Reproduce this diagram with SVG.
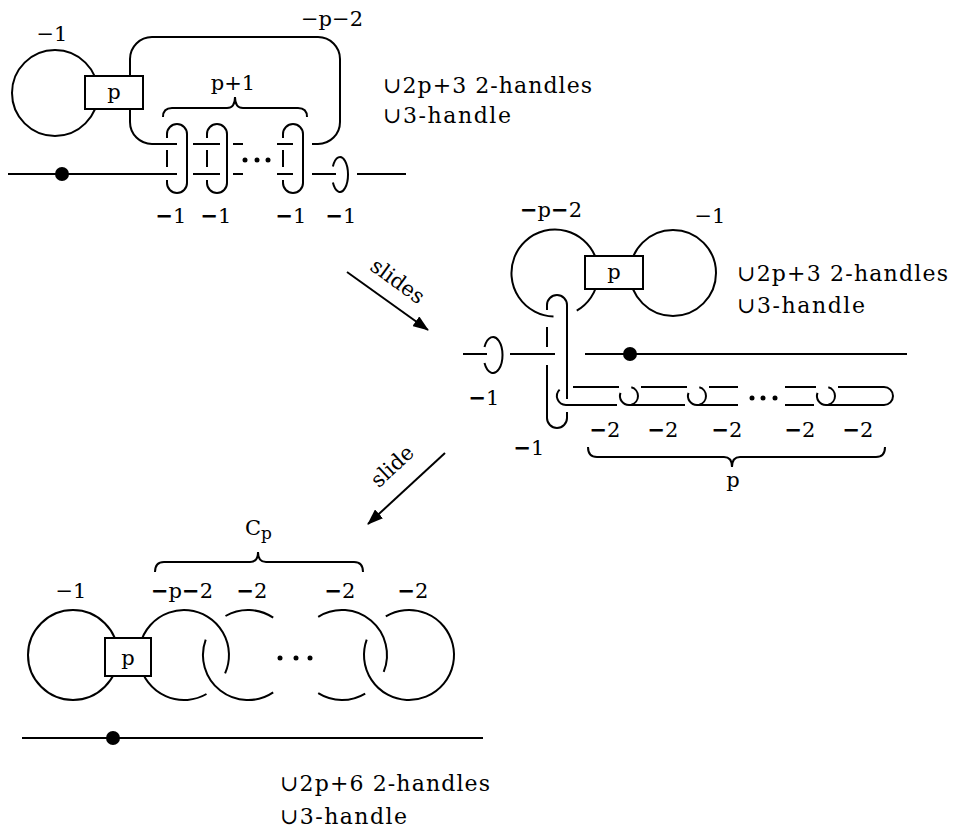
<svg xmlns="http://www.w3.org/2000/svg" width="954" height="834" viewBox="0 0 954 834">
<style>
.s{fill:none;stroke:#000;stroke-width:2}
.b{fill:#fff;stroke:#000;stroke-width:2}
.d{fill:#000}
text{font-family:"DejaVu Serif","Liberation Serif",serif;font-size:21px;fill:#000}
.m{text-anchor:middle}
.h{font-size:22px}
.k{font-weight:bold}
</style>
<defs>
<marker id="ah" viewBox="0 0 16 12" refX="15" refY="6" markerWidth="16" markerHeight="12" markerUnits="userSpaceOnUse" orient="auto">
<path d="M0,0 L16,6 L0,12 z" fill="#000"/>
</marker>
</defs>

<!-- top-left diagram -->
<g id="top">
<g id="t-circle"><circle class="s" cx="55" cy="93" r="43"/></g>
<g id="t-pp2">
<path class="s" d="M130,76 V59 A22,22 0 0 1 152,37 H318 A22,22 0 0 1 340,59 V122 A22,22 0 0 1 318,144 H312"/>
<path class="s" d="M130,109 V122 A22,22 0 0 0 152,144 H177 M193,144 H220 M233,144 H243 M277,144 H293"/>
</g>
<g id="t-box"><rect class="b" x="85" y="76" width="58" height="33"/><text class="m" x="114" y="99">p</text></g>
<g id="t-line">
<path class="s" d="M8,174 H177 M193,174 H220 M233,174 H243 M277,174 H293 M312,174 H336 M357,174 H406"/>
<circle class="d" cx="62" cy="174" r="7"/>
</g>
<g id="t-clasps">
<path class="s" d="M167,138 V134 A10,10 0 0 1 187,134 V183 A10,10 0 0 1 167,183 V180 M167,167 V150"/>
<path class="s" d="M207,138 V134 A10,10 0 0 1 227,134 V183 A10,10 0 0 1 207,183 V180 M207,167 V150"/>
<path class="s" d="M283,138 V134 A10,10 0 0 1 303,134 V183 A10,10 0 0 1 283,183 V180 M283,167 V150"/>
<path class="s" d="M332.9,166.5 A8,17.5 0 1 1 332.9,182.5"/>
<circle class="d" cx="245" cy="160" r="2.5"/><circle class="d" cx="257" cy="160" r="2.5"/><circle class="d" cx="268" cy="160" r="2.5"/>
</g>
<path class="s" d="M163,117 Q163,108 172,108 H227 Q235,108 235,97 Q235,108 243,108 H298 Q307,108 307,117"/>
<text class="m" x="52" y="41">−1</text>
<text class="m" x="332" y="26">−p−2</text>
<text class="m" x="233" y="90">p+1</text>
<text class="m" x="171" y="223"><tspan class="k">−</tspan>1</text>
<text class="m" x="216" y="223"><tspan class="k">−</tspan>1</text>
<text class="m" x="291" y="223"><tspan class="k">−</tspan>1</text>
<text class="m" x="341" y="223"><tspan class="k">−</tspan>1</text>
<text class="h" x="383" y="93" textLength="209" lengthAdjust="spacing">∪2p+3 2-handles</text>
<text class="h" x="383" y="123" textLength="128" lengthAdjust="spacing">∪3-handle</text>
</g>

<!-- middle diagram -->
<g id="mid">
<g id="m-pp2"><path class="s" d="M553.5,316.5 A43.5,43.5 0 1 1 576.75,310.67"/></g>
<g id="m-m1"><circle class="s" cx="673" cy="273" r="43"/></g>
<g id="m-box"><rect class="b" x="585" y="256" width="58" height="33"/><text class="m" x="614" y="279">p</text></g>
<g id="m-clasp">
<path class="s" d="M547,310 V305 A10,10 0 0 1 567,305 V399 M567,412 V418 A10,10 0 0 1 547,418 V365 M547,347 V327"/>
</g>
<g id="m-line">
<path class="s" d="M463,354 H487 M510,354 H555 M585,354 H907"/>
<circle class="d" cx="630" cy="354" r="7"/>
<path class="s" d="M484.5,347 A9.5,18 0 1 1 484.5,363"/>
</g>
<g id="m-chain">
<path class="s" d="M559.6,389.6 A9,9 0 0 0 566,405 H617 M573,387 H619"/>
<path class="s" d="M631.3,387.3 A9,9 0 0 1 631.3,404.7 M620.5,392.9 A9,9 0 0 0 629,405 H685 M641,387 H687"/>
<path class="s" d="M699.3,387.3 A9,9 0 0 1 699.3,404.7 M688.5,392.9 A9,9 0 0 0 697,405 H738 M709,387 H738"/>
<path class="s" d="M785,387 H816 M785,405 H814"/>
<path class="s" d="M828.3,387.3 A9,9 0 0 1 828.3,404.7 M817.5,392.9 A9,9 0 0 0 826,405 H884 A9,9 0 0 0 884,387 H838"/>
<circle class="d" cx="752" cy="398" r="2.5"/><circle class="d" cx="763" cy="398" r="2.5"/><circle class="d" cx="775" cy="398" r="2.5"/>
</g>
<path class="s" d="M588,447 Q588,457 597,457 H724 Q732,457 732,467 Q732,457 740,457 H876 Q885,457 885,447"/>
<text class="m" x="551" y="217"><tspan class="k">−</tspan>p<tspan class="k">−</tspan>2</text>
<text class="m" x="710" y="223">−1</text>
<text class="m" x="484" y="405"><tspan class="k">−</tspan>1</text>
<text class="m" x="529" y="455"><tspan class="k">−</tspan>1</text>
<text class="m" x="605" y="437"><tspan class="k">−</tspan>2</text>
<text class="m" x="663" y="437"><tspan class="k">−</tspan>2</text>
<text class="m" x="727" y="437"><tspan class="k">−</tspan>2</text>
<text class="m" x="800" y="437"><tspan class="k">−</tspan>2</text>
<text class="m" x="858" y="437"><tspan class="k">−</tspan>2</text>
<text class="m" x="733" y="487">p</text>
<text class="h" x="737" y="281" textLength="211" lengthAdjust="spacing">∪2p+3 2-handles</text>
<text class="h" x="737" y="313" textLength="128" lengthAdjust="spacing">∪3-handle</text>
</g>

<!-- bottom diagram -->
<g id="bot">
<g id="b-c1"><circle class="s" cx="73" cy="655" r="45"/></g>
<g id="b-c2"><path class="s" d="M206.5,694 A45,45 0 1 1 225.1,673.3"/></g>
<g id="b-box"><rect class="b" x="105" y="638" width="46" height="38"/><text class="m" x="128" y="665">p</text></g>
<g id="b-c3"><path class="s" d="M225.5,616 A45,45 0 0 1 273.2,617.7 M273.2,692.3 A45,45 0 0 1 205.7,639.6"/></g>
<g id="b-c4"><path class="s" d="M318.2,616.8 A45,45 0 0 1 383.7,671.9 M365.2,693.6 A45,45 0 0 1 318.2,693.2"/></g>
<g id="b-c5"><path class="s" d="M385.8,616.4 A45,45 0 1 1 366.7,639.6"/></g>
<circle class="d" cx="280" cy="658" r="2.5"/><circle class="d" cx="296" cy="658" r="2.5"/><circle class="d" cx="310" cy="658" r="2.5"/>
<g id="b-line"><path class="s" d="M22,738 H483"/><circle class="d" cx="113" cy="738" r="7"/></g>
<path class="s" d="M155,572 Q155,562 164,562 H250 Q258,562 258,552 Q258,562 266,562 H354 Q363,562 363,572"/>
<text x="245" y="535" font-size="24">C<tspan font-size="17" dy="4">p</tspan></text>
<text class="m" x="71" y="598">−1</text>
<text class="m" x="182" y="598"><tspan class="k">−</tspan>p<tspan class="k">−</tspan>2</text>
<text class="m" x="252" y="598"><tspan class="k">−</tspan>2</text>
<text class="m" x="340" y="598"><tspan class="k">−</tspan>2</text>
<text class="m" x="413" y="598"><tspan class="k">−</tspan>2</text>
<text class="h" x="280" y="791" textLength="210" lengthAdjust="spacing">∪2p+6 2-handles</text>
<text class="h" x="280" y="824" textLength="127" lengthAdjust="spacing">∪3-handle</text>
</g>

<!-- connectors -->
<g id="connectors">
<path class="s" d="M347,272 L428,330" marker-end="url(#ah)"/>
<path class="s" d="M445,453 L368,524" marker-end="url(#ah)"/>
<text class="m" transform="translate(397,282) rotate(36)" y="6">slides</text>
<text class="m" transform="translate(393,467) rotate(-43)" y="6">slide</text>
</g>
</svg>
